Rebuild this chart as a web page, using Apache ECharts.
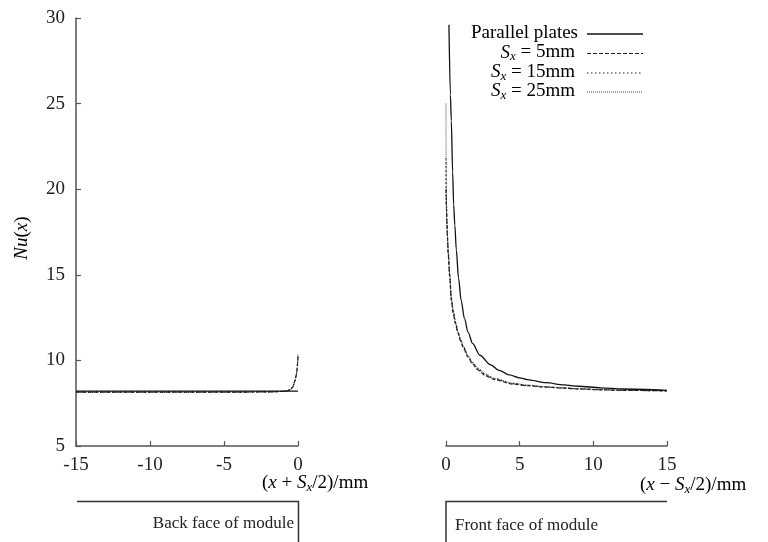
<!DOCTYPE html>
<html>
<head>
<meta charset="utf-8">
<script src="https://cdn.jsdelivr.net/npm/echarts@6/dist/echarts.min.js"></script>
<style>html,body{margin:0;padding:0;background:#fff}#c{width:768px;height:542px}</style>
</head>
<body>
<div id="c"></div>
<script>
// ---- data ----
var seriesNames = ['Parallel plates', 'Sx = 5mm', 'Sx = 15mm', 'Sx = 25mm'];
var xTicksLeft = [-15, -10, -5, 0];
var xTicksRight = [0, 5, 10, 15];
var yTicks = [5, 10, 15, 20, 25, 30];

// back face (left panel)
var xLeft = [-15, -12, -10, -8, -6, -4, -2, -1.5, -1, -0.75, -0.5, -0.35, -0.2, -0.1, -0.05, -0.02, 0];
var ppLeft = [8.2, 8.2, 8.2, 8.2, 8.2, 8.2, 8.2, 8.2, 8.2, 8.2, 8.2, 8.2, 8.2, 8.2, 8.2, 8.2, 8.2];
var s5Left = [8.15, 8.15, 8.15, 8.15, 8.15, 8.15, 8.16, 8.17, 8.19, 8.22, 8.3, 8.45, 8.8, 9.2, 9.55, 9.9, 10.2];
var s15Left = [8.15, 8.15, 8.15, 8.15, 8.15, 8.15, 8.16, 8.17, 8.19, 8.22, 8.3, 8.45, 8.82, 9.22, 9.6, 9.95, 10.3];
var s25Left = [8.15, 8.15, 8.15, 8.15, 8.15, 8.15, 8.16, 8.17, 8.19, 8.22, 8.31, 8.46, 8.84, 9.25, 9.62, 10.0, 10.35];

// front face (right panel)
var xPP = [0.2, 0.3, 0.36, 0.45, 0.52, 0.6, 0.7, 0.85, 1.03, 1.25, 1.5, 1.8, 2.3, 3.0, 3.6, 4.3, 5.0, 5.5, 6.8, 8, 9, 10.5, 12, 15];
var ppRight = [29.6, 25.5, 24.0, 21.0, 19.1, 17.9, 16.45, 14.8, 13.5, 12.45, 11.65, 11.0, 10.3, 9.75, 9.42, 9.15, 8.98, 8.88, 8.7, 8.57, 8.49, 8.4, 8.33, 8.25];
var xRight = [0, 0.01, 0.03, 0.06, 0.1, 0.15, 0.25, 0.36, 0.5, 0.65, 0.81, 1.0, 1.2, 1.49, 1.8, 2.16, 2.7, 3.3, 4.5, 5.5, 6.8, 8, 9, 10.5, 12, 15];
var s5Right = [20.0, 19.5, 18.9, 18.0, 17.1, 16.2, 14.9, 13.5, 12.7, 12.1, 11.6, 11.1, 10.7, 10.2, 9.8, 9.45, 9.1, 8.88, 8.62, 8.52, 8.44, 8.38, 8.33, 8.28, 8.25, 8.22];
var s15Right = [21.8, 20.0, 19.1, 18.1, 17.2, 16.3, 15.0, 13.6, 12.8, 12.2, 11.65, 11.15, 10.75, 10.25, 9.85, 9.5, 9.15, 8.92, 8.65, 8.54, 8.45, 8.39, 8.34, 8.29, 8.25, 8.22];
var s25Right = [25.0, 20.6, 19.3, 18.2, 17.3, 16.4, 15.1, 13.7, 12.9, 12.25, 11.7, 11.2, 10.8, 10.3, 9.9, 9.55, 9.2, 8.95, 8.68, 8.56, 8.46, 8.4, 8.35, 8.3, 8.26, 8.23];

function pairs(xs, ys) { return xs.map(function (x, i) { return [x, ys[i]]; }); }

var FONT = '"Liberation Serif", "DejaVu Serif", serif';
var TXT = '#222';
var AX = '#555';
var styles = [
  { color: '#111', width: 1.3, type: 'solid' },
  { color: '#222', width: 1.2, type: [4, 2] },
  { color: '#222', width: 1.2, type: [1.5, 2.5] },
  { color: '#444', width: 1, type: [1, 1] }
];

function xAxisCfg(idx, min, max) {
  return {
    type: 'value', gridIndex: idx, min: min, max: max, interval: 5,
    axisLine: { show: true, onZero: false, lineStyle: { color: AX, width: 1.5 } },
    axisTick: { show: true, inside: true, length: 5, lineStyle: { color: AX, width: 1.2 } },
    axisLabel: { show: true, margin: 10, fontFamily: FONT, fontSize: 19, color: TXT },
    splitLine: { show: false }
  };
}

var rich = {
  r: { fontFamily: FONT, fontSize: 19, color: TXT, lineHeight: 22 },
  i: { fontFamily: FONT, fontSize: 19, fontStyle: 'italic', color: TXT, lineHeight: 22 },
  s: { fontFamily: FONT, fontSize: 13, fontStyle: 'italic', color: TXT, lineHeight: 13, verticalAlign: 'bottom' }
};

var series = [];
var lefts = [ppLeft, s5Left, s15Left, s25Left];
var rights = [pairs(xPP, ppRight), pairs(xRight, s5Right), pairs(xRight, s15Right), pairs(xRight, s25Right)];
for (var k = 0; k < 4; k++) {
  series.push({
    name: seriesNames[k], type: 'line', xAxisIndex: 0, yAxisIndex: 0,
    data: pairs(xLeft, lefts[k]), showSymbol: false, symbol: 'none',
    smooth: 0.3, smoothMonotone: 'x', lineStyle: styles[k], z: 5 - k
  });
  series.push({
    name: seriesNames[k], type: 'line', xAxisIndex: 1, yAxisIndex: 1,
    data: rights[k], showSymbol: false, symbol: 'none',
    smooth: 0.3, smoothMonotone: 'x', lineStyle: styles[k], z: 5 - k
  });
}

// legend drawn as graphic (right-aligned labels, sample lines on the right)
var legendTexts = [
  '{r|Parallel plates}',
  '{i|S}{s|x}{r| = 5mm}',
  '{i|S}{s|x}{r| = 15mm}',
  '{i|S}{s|x}{r| = 25mm}'
];
var legendY = [33, 52.5, 72, 91];
var graphics = [];
for (var j = 0; j < 4; j++) {
  graphics.push({
    type: 'text', x: j === 0 ? 578 : 575, y: legendY[j],
    style: { text: legendTexts[j], rich: rich, align: 'right', verticalAlign: 'middle' }
  });
  graphics.push({
    type: 'line', shape: { x1: 587, y1: legendY[j] + 1, x2: 643, y2: legendY[j] + 1 },
    style: { stroke: styles[j].color, lineWidth: styles[j].width, lineDash: styles[j].type === 'solid' ? null : styles[j].type }
  });
}
// y axis name
graphics.push({
  type: 'text', x: 22, y: 238, rotation: Math.PI / 2,
  style: { text: '{i|Nu}{r|(}{i|x}{r|)}', rich: rich, align: 'center', verticalAlign: 'middle' }
});
// x axis names
graphics.push({
  type: 'text', x: 262, y: 483,
  style: { text: '{r|(}{i|x}{r| + }{i|S}{s|x}{r|/2)/mm}', rich: rich, align: 'left', verticalAlign: 'middle' }
});
graphics.push({
  type: 'text', x: 640, y: 485,
  style: { text: '{r|(}{i|x}{r| \u2212 }{i|S}{s|x}{r|/2)/mm}', rich: rich, align: 'left', verticalAlign: 'middle' }
});
// face brackets
graphics.push({ type: 'polyline', shape: { points: [[77, 501.5], [298.5, 501.5], [298.5, 545]] }, style: { stroke: '#333', lineWidth: 1.5, fill: null } });
graphics.push({ type: 'polyline', shape: { points: [[667, 501.5], [446, 501.5], [446, 545]] }, style: { stroke: '#333', lineWidth: 1.5, fill: null } });
graphics.push({ type: 'text', x: 294, y: 524, style: { text: 'Back face of module', fontFamily: FONT, fontSize: 17, fill: TXT, align: 'right', verticalAlign: 'middle' } });
graphics.push({ type: 'text', x: 455, y: 526, style: { text: 'Front face of module', fontFamily: FONT, fontSize: 17, fill: TXT, align: 'left', verticalAlign: 'middle' } });

var chart = echarts.init(document.getElementById('c'), null, { renderer: 'canvas' });
chart.setOption({
  backgroundColor: '#fff',
  animation: false,
  grid: [
    { left: 76, top: 18, width: 222, height: 428 },
    { left: 446, top: 18, width: 221, height: 428 }
  ],
  xAxis: [xAxisCfg(0, xTicksLeft[0], xTicksLeft[3]), xAxisCfg(1, xTicksRight[0], xTicksRight[3])],
  yAxis: [
    {
      type: 'value', gridIndex: 0, min: yTicks[0], max: yTicks[yTicks.length - 1], interval: 5,
      axisLine: { show: true, onZero: false, lineStyle: { color: AX, width: 1.5 } },
      axisTick: { show: true, inside: true, length: 5, lineStyle: { color: AX, width: 1.2 } },
      axisLabel: { show: true, margin: 11, fontFamily: FONT, fontSize: 19, color: TXT },
      splitLine: { show: false }
    },
    {
      type: 'value', gridIndex: 1, min: yTicks[0], max: yTicks[yTicks.length - 1], interval: 5,
      show: false, splitLine: { show: false }
    }
  ],
  series: series,
  graphic: graphics
});
</script>
</body>
</html>
